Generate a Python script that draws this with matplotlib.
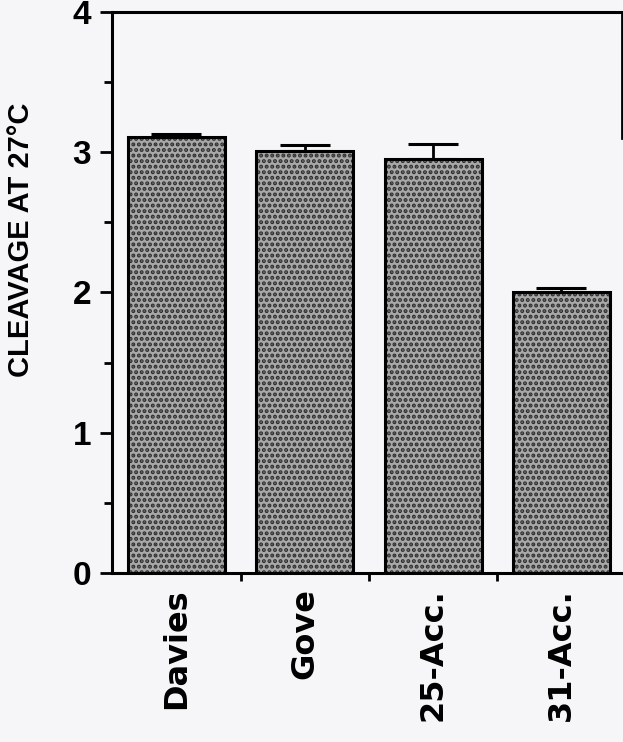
import matplotlib
matplotlib.use("Agg")
import matplotlib.pyplot as plt
import numpy as np

# Data
strains = ["Davies", "Gove", "25-Acc.", "31-Acc."]
cleavage = [3.11, 3.01, 2.95, 2.00]
sem = [0.02, 0.04, 0.11, 0.035]
y_ticks = [0, 1, 2, 3, 4]

plt.rcParams["hatch.linewidth"] = 2.0
plt.rcParams["font.family"] = ["Liberation Sans", "DejaVu Sans"]

bg = "#f6f5f7"
fig = plt.figure(figsize=(6.23, 7.42), dpi=100, facecolor=bg)
ax = fig.add_axes([0.180, 0.2278, 0.818, 0.756])
ax.set_facecolor(bg)

x = np.arange(len(strains))
width = 0.755

# stippled fill
ax.bar(x, cleavage, width=width, color="#a8a8a8", edgecolor="#2e2e2e",
       hatch="...", linewidth=0, zorder=2)
# outlines
ax.bar(x, cleavage, width=width, fill=False, edgecolor="black",
       linewidth=2.2, zorder=3)
# upward error bars
ax.errorbar(x, cleavage, yerr=[np.zeros(len(sem)), sem], fmt="none",
            ecolor="black", elinewidth=2.0, capsize=18, capthick=2.2, zorder=4)

ax.set_xlim(-0.5, 3.47)
ax.set_ylim(0, 4)

ax.set_yticks(y_ticks)
ax.set_yticklabels([str(t) for t in y_ticks], fontsize=24, fontweight="bold")
ax.set_yticks(np.arange(0.5, 4, 1.0), minor=True)
ax.tick_params(axis="y", which="major", direction="out", length=9, width=2, pad=6)
ax.tick_params(axis="y", which="minor", direction="out", length=6, width=2)

ax.set_xticks(x)
ax.set_xticklabels(strains, rotation=90, fontsize=23, fontweight="bold",
                   family=["DejaVu Sans"])
ax.set_xticks([0.5, 1.5, 2.5], minor=True)
ax.tick_params(axis="x", which="major", length=0, pad=11)
ax.tick_params(axis="x", which="minor", direction="out", length=6, width=2)

for side in ["left", "bottom", "top"]:
    ax.spines[side].set_linewidth(2.2)
ax.spines["right"].set_linewidth(2.0)
ax.spines["right"].set_bounds(3.1, 4)

ax.set_ylabel("CLEAVAGE AT 27°C", fontsize=21, fontweight="bold")
ax.yaxis.set_label_coords(-0.152, 0.594)

fig.savefig("out.png", dpi=100, facecolor=bg)
